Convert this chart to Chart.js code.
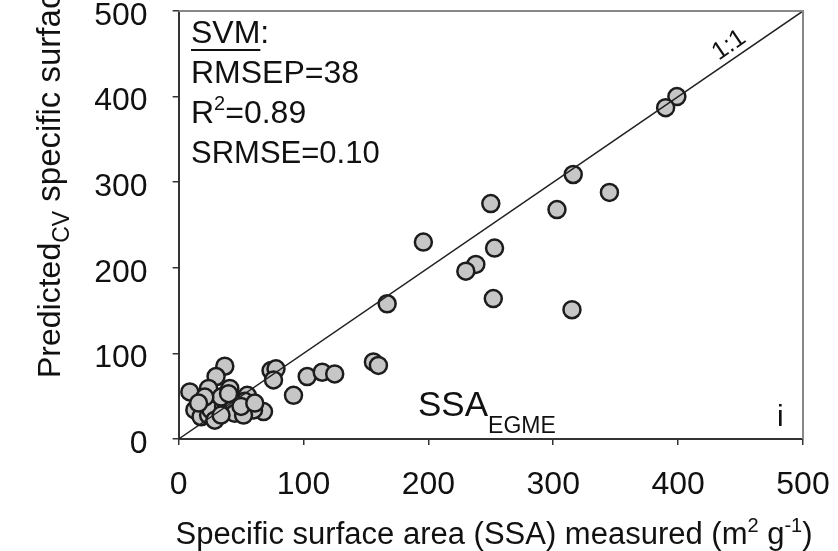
<!DOCTYPE html>
<html lang="en">
<head>
<meta charset="UTF-8">
<title>SVM SSA EGME</title>
<style>
  html, body { margin: 0; padding: 0; background: #fff; }
  #chart { width: 838px; height: 551px; }
</style>
</head>
<body>
<div id="chart"><canvas id="myChart" width="838" height="551"></canvas></div>
<script src="https://cdn.jsdelivr.net/npm/chart.js"></script>
<script>
  // SSA measured vs predicted (m2 g-1)
  const measured = [399, 390, 316, 345, 250, 303, 196, 253, 238, 230, 252, 315, 167,
    74, 78, 76, 92, 103, 115, 125, 156, 160, 68,
    37, 30, 9, 24, 37, 41, 55, 53, 60, 13, 18, 24, 26, 29, 36, 44, 34, 21, 16, 45, 52, 34, 40, 50, 61]
  const predicted = [400, 387, 309, 288, 275, 268, 230, 223, 204, 196, 164, 151, 158,
    80, 82, 69, 51, 73, 78, 76, 90, 86, 32,
    85, 73, 55, 59, 51, 59, 51, 44, 34, 34, 26, 28, 34, 22, 38, 42, 49, 49, 42, 30, 28, 28, 53, 38, 42]
  const lineX = [0, 500]
  const lineY = [0, 500]
  const tickValues = [0, 100, 200, 300, 400, 500]
  const statLines = ["RMSEP=38", "R", "SRMSE=0.10"]

  const FONT = "'Liberation Sans', Arial, sans-serif"

  function f(size) { return size + "px " + FONT }

  // draw a run of text pieces (normal / sub / sup), returns width
  function drawRun(ctx, parts, x, y, measureOnly) {
    let cx = x
    parts.forEach(p => {
      ctx.font = f(p.size)
      if (!measureOnly) ctx.fillText(p.t, cx, y + (p.dy || 0))
      cx += ctx.measureText(p.t).width
    })
    return cx - x
  }

  const textPlugin = {
    id: "texts",
    afterDraw(chart) {
      const ctx = chart.ctx
      const a = chart.chartArea
      ctx.save()
      // top and right frame
      ctx.strokeStyle = "#888"
      ctx.lineWidth = 2
      ctx.beginPath()
      ctx.moveTo(a.left, a.top)
      ctx.lineTo(a.right, a.top)
      ctx.lineTo(a.right, a.bottom)
      ctx.stroke()

      ctx.fillStyle = "#111"
      ctx.textBaseline = "alphabetic"
      ctx.textAlign = "left"

      // stats box
      ctx.font = f(32)
      ctx.fillText("SVM:", 191, 43)
      const w = ctx.measureText("SVM").width
      ctx.fillRect(191, 49, w, 2)
      ctx.fillText(statLines[0], 191, 83)
      drawRun(ctx, [{ t: statLines[1], size: 32 }, { t: "2", size: 20, dy: -13 }, { t: "=0.89", size: 32 }], 191, 123)
      ctx.font = f(31)
      ctx.fillText(statLines[2], 191, 163)

      // SSA EGME label and panel letter
      drawRun(ctx, [{ t: "SSA", size: 35 }, { t: "EGME", size: 23, dy: 17 }], 418, 416)
      ctx.font = f(30)
      ctx.fillText("i", 777, 426)

      // 1:1 label along the line
      ctx.save()
      ctx.translate(733, 51)
      ctx.rotate(-Math.atan2(a.bottom - a.top, a.right - a.left))
      ctx.textAlign = "center"
      ctx.font = f(25)
      ctx.fillText("1:1", 0, 0)
      ctx.restore()

      // y title, rotated
      ctx.save()
      ctx.translate(60, 378)
      ctx.rotate(-Math.PI / 2)
      drawRun(ctx, [
        { t: "Predicted", size: 32 }, { t: "CV", size: 23, dy: 9 },
        { t: " specific surface area (m", size: 33 }, { t: "2", size: 21, dy: -12 },
        { t: " g", size: 33 }, { t: "-1", size: 21, dy: -12 }, { t: ")", size: 33 }
      ], 0, 0)
      ctx.restore()

      // x title, centred
      const xParts = [
        { t: "Specific surface area (SSA) measured (m", size: 31 }, { t: "2", size: 20, dy: -12 },
        { t: " g", size: 31 }, { t: "-1", size: 20, dy: -12 }, { t: ")", size: 31 }
      ]
      const tw = drawRun(ctx, xParts, 0, 0, true)
      drawRun(ctx, xParts, 494 - tw / 2, 544)
      ctx.restore()
    }
  }

  const ctx = document.getElementById("myChart")

  const chart = new Chart(ctx, {
    type: "scatter",
    data: {
      datasets: [
        {
          label: "1:1",
          data: lineX.map((x, i) => ({ x: x, y: lineY[i] })),
          showLine: true,
          borderColor: "#222",
          borderWidth: 1.5,
          pointRadius: 0
        },
        {
          label: "SVM",
          data: measured.map((x, i) => ({ x: x, y: predicted[i] })),
          backgroundColor: "#c6c6c6",
          borderColor: "#1c1c1c",
          borderWidth: 2.5,
          pointRadius: 8.5,
          pointHoverRadius: 8.5
        }
      ]
    },
    options: {
      responsive: false,
      animation: false,
      layout: { padding: { left: 0, top: 10, right: 35, bottom: 0 } },
      plugins: { legend: { display: false }, tooltip: { enabled: false } },
      scales: {
        x: {
          min: 0, max: 500,
          afterBuildTicks: s => { s.ticks = tickValues.map(v => ({ value: v })) },
          afterFit: s => { s.height = 112; s.paddingLeft = 0; s.paddingRight = 0 },
          border: { color: "#333", width: 2 },
          grid: { drawOnChartArea: false, drawTicks: true, tickLength: 6, color: "#333", lineWidth: 1.5 },
          ticks: { font: { size: 32, family: FONT }, color: "#111", padding: 21, maxRotation: 0 }
        },
        y: {
          min: 0, max: 500,
          afterBuildTicks: s => { s.ticks = tickValues.map(v => ({ value: v })) },
          afterFit: s => { s.width = 178.6; s.paddingTop = 0; s.paddingBottom = 0 },
          border: { color: "#333", width: 2 },
          grid: { drawOnChartArea: false, drawTicks: true, tickLength: 6, color: "#333", lineWidth: 1.5 },
          ticks: { font: { size: 32, family: FONT }, color: "#111", padding: 25, labelOffset: 5 }
        }
      }
    },
    plugins: [textPlugin]
  })
</script>
</body>
</html>
